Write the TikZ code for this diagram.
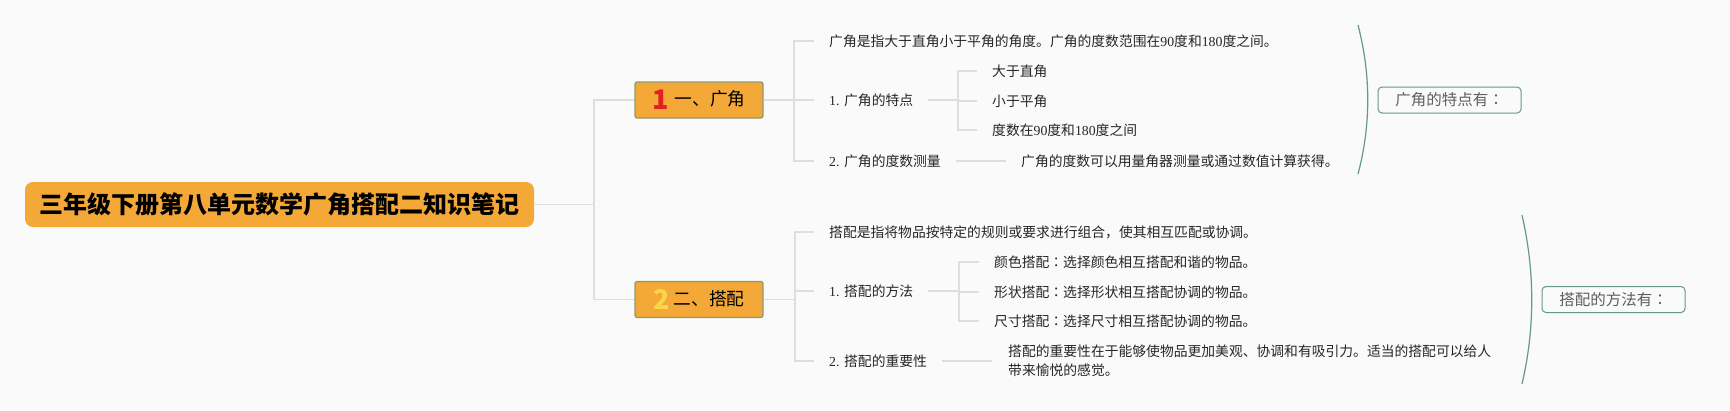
\documentclass[tikz,border=0pt]{standalone}
\usepackage{fontspec}
\setmainfont{Noto Sans CJK SC}
\newfontfamily\latn{Liberation Serif}
\newfontfamily\tcfont{Noto Sans CJK TC}
\newcommand{\latnum}[1]{{\latn #1}}
\newcommand{\fcolon}{{\tcfont ：}}
\newcommand{\txtsize}{\fontsize{13.8pt}{19pt}\selectfont}

\definecolor{bgcol}{RGB}{250,250,250}
\definecolor{rootfill}{RGB}{243,168,56}
\definecolor{brborder}{RGB}{140,155,110}
\definecolor{linecol}{RGB}{222,222,222}
\definecolor{sumcol}{RGB}{100,152,138}
\definecolor{sumtext}{RGB}{95,95,95}
\definecolor{txtcol}{RGB}{38,38,38}
\definecolor{iconred}{RGB}{226,32,30}
\definecolor{iconyel}{RGB}{250,214,72}

\begin{document}
\begin{tikzpicture}[x=1pt, y=-1pt,
    root node/.style={rounded corners=8pt, fill=rootfill, minimum width=509pt,
        minimum height=45pt, inner sep=0pt, font=\fontsize{24pt}{26pt}\selectfont\bfseries},
    branch node/.style={rounded corners=2pt, fill=rootfill, draw=brborder, line width=1.2pt,
        minimum width=128pt, minimum height=36pt, inner sep=0pt,
        font=\fontsize{17.75pt}{20pt}\selectfont},
    topic node/.style={anchor=west, inner xsep=15pt, inner ysep=2pt, text=txtcol,
        align=left, font=\txtsize},
    summary node/.style={rounded corners=4pt, draw=sumcol, line width=1pt, text=sumtext,
        minimum width=143pt, minimum height=26pt, inner sep=0pt,
        font=\fontsize{15.5pt}{17pt}\selectfont},
    edge line/.style={draw=linecol, line width=1.5pt},
    elbow/.style={to path={|- (\tikztotarget)}},
    brace line/.style={draw=sumcol, line width=1.2pt}]

  \fill[bgcol] (0,0) rectangle (1730,410);

  % root and main branches
  \node[root node] (root) at (279.5,204.5) {三年级下册第八单元数学广角搭配二知识笔记};
  \node[branch node] (b1) at (699,100)
    {\raisebox{-4pt}{\fontsize{27pt}{27pt}\selectfont\bfseries\textcolor{iconred}{1}}\hspace{6pt}一、广角};
  \node[branch node] (b2) at (699,299.5)
    {\raisebox{-4pt}{\fontsize{27pt}{27pt}\selectfont\bfseries\textcolor{iconyel}{2}}\hspace{4pt}二、搭配};

  \coordinate (j0) at (594,204.5);
  \coordinate (j1) at (794,100);
  \coordinate (j2) at (795,299.5);

  % branch 1
  \node[topic node] (t11) at (814,41)
    {广角是指大于直角小于平角的角度。广角的度数范围在\latnum{90}度和\latnum{180}度之间。};
  \node[topic node] (t12) at (814,100) {\latnum{1. }广角的特点};
  \node[topic node] (t13) at (814,161) {\latnum{2. }广角的度数测量};
  \node[topic node] (s121) at (977,71) {大于直角};
  \node[topic node] (s122) at (977,101) {小于平角};
  \node[topic node] (s123) at (977,130) {度数在\latnum{90}度和\latnum{180}度之间};
  \node[topic node] (s131) at (1006,161) {广角的度数可以用量角器测量或通过数值计算获得。};
  \coordinate (j12) at (958,100);

  % branch 2
  \node[topic node] (t21) at (814,232)
    {搭配是指将物品按特定的规则或要求进行组合，使其相互匹配或协调。};
  \node[topic node] (t22) at (814,291) {\latnum{1. }搭配的方法};
  \node[topic node] (t23) at (814,361) {\latnum{2. }搭配的重要性};
  \node[topic node] (s221) at (979,262) {颜色搭配\fcolon 选择颜色相互搭配和谐的物品。};
  \node[topic node] (s222) at (979,292) {形状搭配\fcolon 选择形状相互搭配协调的物品。};
  \node[topic node] (s223) at (979,321) {尺寸搭配\fcolon 选择尺寸相互搭配协调的物品。};
  \node[topic node, inner xsep=16pt] (s231) at (992,361)
    {搭配的重要性在于能够使物品更加美观、协调和有吸引力。适当的搭配可以给人\\带来愉悦的感觉。};
  \coordinate (j22) at (959,291);

  % summaries
  \coordinate (c1top) at (1358,25);
  \coordinate (c1bot) at (1358,174);
  \coordinate (c2top) at (1522,215);
  \coordinate (c2bot) at (1522,384);
  \node[summary node] (sum1) at (1449.5,100) {广角的特点有\fcolon};
  \node[summary node] (sum2) at (1613.5,299.5) {搭配的方法有\fcolon};

  \path[edge line]
    (root.east) edge (j0)
    (j0) edge[elbow] (b1.west)
         edge[elbow] (b2.west)
    (b1.east) edge (j1)
    (j1) edge[elbow] (t11.west)
         edge[elbow] (t12.west)
         edge[elbow] (t13.west)
    (t12.east) edge (j12)
    (j12) edge[elbow] (s121.west)
          edge[elbow] (s122.west)
          edge[elbow] (s123.west)
    (t13.east) edge (s131.west)
    (b2.east) edge (j2)
    (j2) edge[elbow] (t21.west)
         edge[elbow] (t22.west)
         edge[elbow] (t23.west)
    (t22.east) edge (j22)
    (j22) edge[elbow] (s221.west)
          edge[elbow] (s222.west)
          edge[elbow] (s223.west)
    (t23.east) edge (s231.west);

  \draw[brace line] (c1top) .. controls (1371,75) and (1371,125) .. (c1bot);
  \draw[brace line] (c2top) .. controls (1535,272) and (1535,328) .. (c2bot);
\end{tikzpicture}
\end{document}
